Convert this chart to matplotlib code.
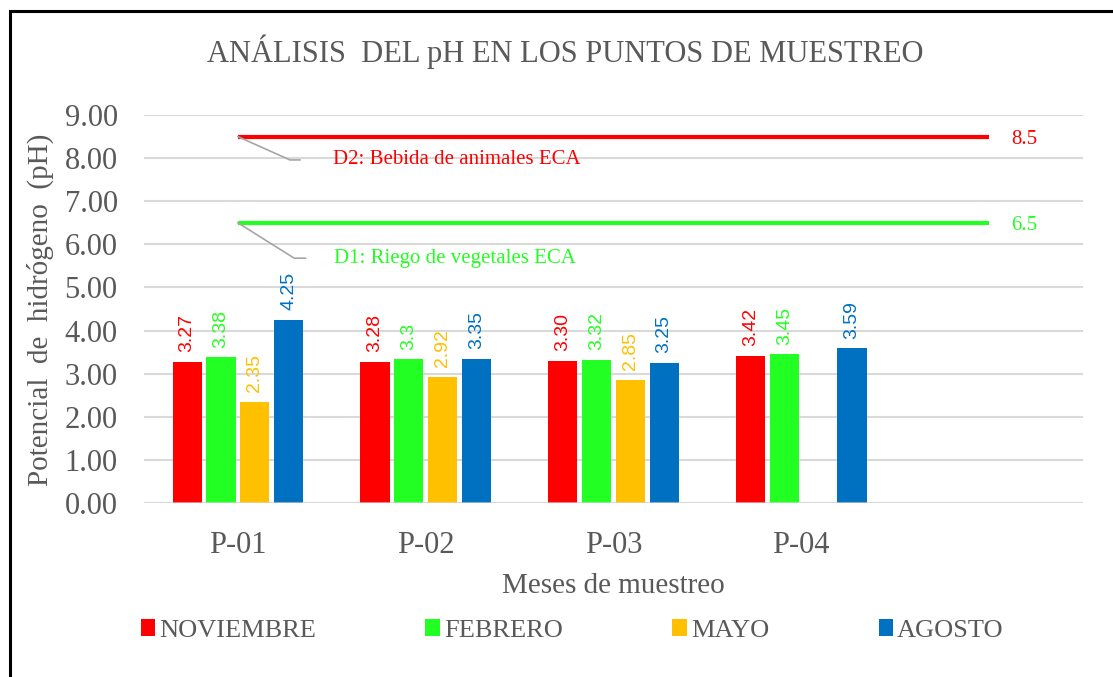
import numpy as np
import matplotlib.pyplot as plt
from matplotlib.patches import Patch, Rectangle

puntos = ['P-01', 'P-02', 'P-03', 'P-04', '']
meses = ['NOVIEMBRE', 'FEBRERO', 'MAYO', 'AGOSTO']
colores = ['#FF0000', '#22FF22', '#FFC000', '#0070C0']

noviembre = [3.27, 3.28, 3.30, 3.42]
febrero = [3.38, 3.33, 3.32, 3.45]
mayo = [2.35, 2.92, 2.85, np.nan]
agosto = [4.25, 3.35, 3.25, 3.59]

etiq_noviembre = ['3.27', '3.28', '3.30', '3.42']
etiq_febrero = ['3.38', '3.3', '3.32', '3.45']
etiq_mayo = ['2.35', '2.92', '2.85', '']
etiq_agosto = ['4.25', '3.35', '3.25', '3.59']

eca_d1 = 6.5
eca_d2 = 8.5

SERIF = 'Liberation Serif'
GRIS = '#595959'

fig = plt.figure(figsize=(11.13, 6.77), dpi=100)
ax = fig.add_axes([0.1294, 0.257, 0.8436, 0.573])

series = [noviembre, febrero, mayo, agosto]
etiquetas = [etiq_noviembre, etiq_febrero, etiq_mayo, etiq_agosto]
x = np.arange(len(noviembre))
paso = 0.18
ancho = 0.155

for i, (vals, labs) in enumerate(zip(series, etiquetas)):
    pos = x + (i - 1.5) * paso
    ax.bar(pos, vals, width=ancho, color=colores[i], zorder=2)
    for xp, v, t in zip(pos, vals, labs):
        if np.isnan(v):
            continue
        ax.annotate(t, (xp, v), xytext=(0, 7), textcoords='offset points',
                    rotation=90, ha='center', va='bottom', color=colores[i],
                    fontsize=14, family='Liberation Sans')

# lineas ECA
ax.hlines(eca_d2, 0, 4, color='#FF0000', lw=3, zorder=3)
ax.hlines(eca_d1, 0, 4, color='#22FF22', lw=3, zorder=3)
ax.text(4.12, eca_d2, '8.5', color='#FF0000', fontsize=15, family=SERIF,
        va='center_baseline', ha='left')
ax.text(4.12, eca_d1, '6.5', color='#22FF22', fontsize=15, family=SERIF,
        va='center_baseline', ha='left')

# etiquetas con linea guia
ax.plot([0, 0.277, 0.33], [eca_d2, 7.96, 7.96], color='#A6A6A6', lw=1.2, zorder=3)
ax.text(0.506, 7.96, 'D2: Bebida de animales ECA', color='#FF0000', fontsize=15,
        family=SERIF, va='center', ha='left')
ax.plot([0, 0.30, 0.36], [eca_d1, 5.68, 5.68], color='#A6A6A6', lw=1.2, zorder=3)
ax.text(0.511, 5.68, 'D1: Riego de vegetales ECA', color='#22FF22', fontsize=15,
        family=SERIF, va='center', ha='left')

ax.set_xlim(-0.5, 4.5)
ax.set_ylim(0, 9)
ax.set_yticks(np.arange(0, 10, 1))
ax.set_yticklabels([f'{v:.2f}' for v in np.arange(0, 10, 1)])
ax.set_xticks(np.arange(len(puntos)))
ax.set_xticklabels(puntos)
ax.tick_params(axis='both', length=0, labelsize=22, labelcolor=GRIS)
ax.tick_params(axis='x', pad=20)
ax.tick_params(axis='y', pad=19)
for lab in ax.get_xticklabels() + ax.get_yticklabels():
    lab.set_family(SERIF)

ax.grid(axis='y', color='#D9D9D9', lw=1.5, zorder=0)
ax.set_axisbelow(True)
ax.axhline(0, color='#D9D9D9', lw=1.5, alpha=0.6, zorder=4)
for s in ax.spines.values():
    s.set_visible(False)

fig.text(0.508, 0.923, 'ANÁLISIS  DEL pH EN LOS PUNTOS DE MUESTREO', ha='center',
         va='center', fontsize=22, color=GRIS, family=SERIF)
fig.text(0.036, 0.543, 'Potencial  de  hidrógeno  (pH)', rotation=90, ha='center',
         va='center', fontsize=21, color=GRIS, family=SERIF)
fig.text(0.551, 0.135, 'Meses de muestreo', ha='center', va='center',
         fontsize=21, color=GRIS, family=SERIF)

handles = [Patch(facecolor=c, edgecolor='none') for c in colores]
fig.legend(handles, meses, loc='center', bbox_to_anchor=(0.514, 0.069), ncol=4,
           frameon=False, handlelength=0.55, handleheight=0.65, handletextpad=0.15,
           columnspacing=4.15, prop={'family': SERIF, 'size': 19}, labelcolor=GRIS)

# marco
fig.add_artist(Rectangle((10 / 1113, -0.1), 1.2, 1 - 11 / 677 + 0.1,
                         transform=fig.transFigure, fill=False, ec='black', lw=2.2))

fig.savefig('out.png', dpi=100)
